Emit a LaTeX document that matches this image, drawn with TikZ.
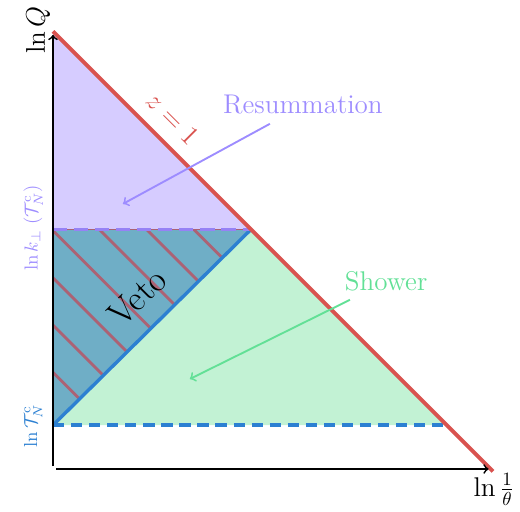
\documentclass[tikz,border=0pt]{standalone}
\usepackage{amsmath}
\usetikzlibrary{calc}
\definecolor{zred}{RGB}{217,83,79}
\definecolor{resfill}{RGB}{214,204,255}
\definecolor{respurple}{RGB}{157,140,255}
\definecolor{resdash}{RGB}{150,130,245}
\definecolor{vetofill}{RGB}{111,174,198}
\definecolor{vetohatch}{RGB}{172,98,116}
\definecolor{showfill}{RGB}{194,242,212}
\definecolor{showgreen}{RGB}{98,224,150}
\definecolor{cutblue}{RGB}{44,128,210}
\tikzset{
  axis/.style={->, line width=0.9pt, draw=black},
  boundary/.style={line width=#1},
  cutline/.style={line width=2pt, draw=#1, dash pattern=on 6pt off 3.6pt},
  pointer/.style={->, line width=1pt, draw=#1},
  region/.style={font=\Large, text=#1},
  ylab/.style={rotate=90, text=#1},
}

\begin{document}
\begin{tikzpicture}[x=23.4pt, y=23.4pt]
  \useasboundingbox (-1.2045,-1.0227) rectangle (10.614,10.614);
  % corners of the phase space
  \coordinate (top) at (0,9.9);
  \coordinate (kt) at (0,5.4);
  \coordinate (mid) at (4.5,5.4);
  \coordinate (cut) at (0,0.95);
  \coordinate (cutend) at (8.95,0.95);
  \coordinate (end) at (10,-0.1);

  % regions
  \fill[resfill] (top) -- (mid) -- (kt) -- cycle;
  \fill[vetofill] (kt) -- (mid) -- (cut) -- cycle;
  \fill[showfill] (cut) -- (mid) -- (cutend) -- cycle;
  \begin{scope}
    \clip (kt) -- (mid) -- (cut) -- cycle;
    \foreach \s in {2.15,3.225,4.3,5.375,6.45,7.525,8.6}
      \draw[vetohatch, line width=1.5pt] (0,\s) -- (\s,0);
  \end{scope}
  \draw[vetohatch, line width=0.8pt] (kt) -- (mid);

  % boundaries
  \draw[boundary=1.8pt, cutblue] (cut) -- (mid);
  \draw[cutline=resdash, dash pattern=on 7.5pt off 3.7pt] (kt) -- (mid);
  \draw[cutline=cutblue] (cut) -- (cutend);
  \draw[boundary=2.1pt, zred] (top) -- (end);

  % axes
  \coordinate (o1) at (0,0.02);
  \coordinate (yend) at (0,9.82);
  \coordinate (o2) at (0.07,-0.045);
  \coordinate (xend) at (9.9,-0.045);
  \draw[axis] (o1) -- (yend);
  \draw[axis] (o2) -- (xend);

  % labels
  \node[font=\Large, rotate=90] (lnQ) at (-0.34,9.93) {$\ln Q$};
  \node[font=\Large] (lntheta) at (10.02,-0.52) {$\ln\frac{1}{\theta}$};
  \node[ylab=respurple] (ktlab) at (-0.45,5.43) {$\ln k_\perp\;(\mathcal{T}_N^{\mathrm{c}})$};
  \node[ylab=cutblue] (taulab) at (-0.45,0.93) {$\ln\mathcal{T}_N^{\mathrm{c}}$};
  \node[font=\Large, rotate=-45, text=zred] (zlab) at (2.72,7.92) {$z=1$};
  \node[font=\fontsize{19}{23}\selectfont, rotate=45] (veto) at (1.91,3.86) {Veto};

  \node[region=respurple] (res) at (5.68,8.23) {Resummation};
  \coordinate (resFrom) at (4.93,7.80);
  \coordinate (resTo) at (1.59,5.98);
  \draw[pointer=respurple] (resFrom) -- (resTo);

  \node[region=showgreen] (shower) at (7.57,4.23) {Shower};
  \coordinate (showFrom) at (6.75,3.80);
  \coordinate (showTo) at (3.11,2.0);
  \draw[pointer=showgreen] (showFrom) -- (showTo);
\end{tikzpicture}
\end{document}
